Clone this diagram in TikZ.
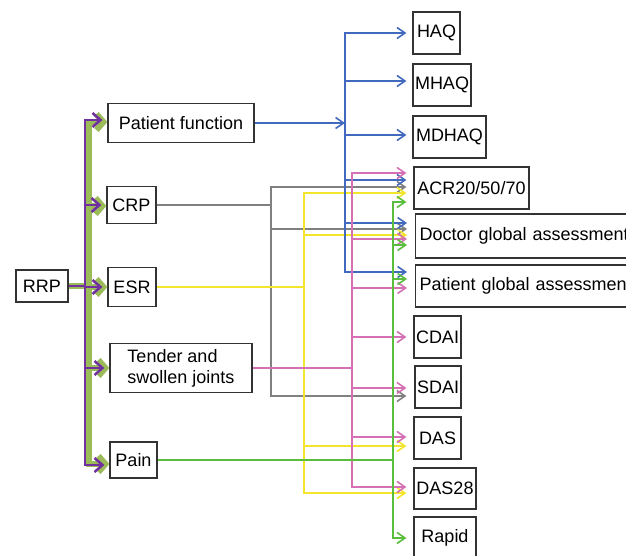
\documentclass[tikz,border=0pt]{standalone}
\usepackage{fontspec}
\setmainfont{Liberation Sans}
\usetikzlibrary{arrows.meta,calc}
\definecolor{cblue}{HTML}{4169BE}
\definecolor{cpink}{HTML}{D670B4}
\definecolor{cgray}{HTML}{808080}
\definecolor{cyel}{HTML}{F2E52C}
\definecolor{cgrn}{HTML}{5BBD3E}
\definecolor{cpur}{HTML}{7030A0}
\definecolor{colv}{HTML}{9BBB59}
\definecolor{cbox}{HTML}{333333}
\begin{document}
\begin{tikzpicture}[x=1pt,y=-1pt,
  font=\fontsize{18}{21}\selectfont,
  box/.style={draw=cbox, line width=1.2pt, inner sep=2pt, minimum height=42pt},
  wbox/.style={box, anchor=west, inner xsep=4pt, minimum width=225pt, text width=217pt, align=left},
  ln/.style={line width=1.6pt},
  lnk/.style={line width=1.6pt, -{Straight Barb[length=8pt,width=11pt]}},
  olvline/.style={colv, line width=6pt},
  olvarr/.style={colv, line width=6pt, -{Straight Barb[length=7pt,width=16pt]}},
  purline/.style={cpur, line width=2.5pt},
  purarr/.style={cpur, line width=2.5pt, -{Straight Barb[length=8pt,width=14pt]}}]
\useasboundingbox (0,0) rectangle (626,556);
\clip (0,0) rectangle (626,556);

% left boxes
\node[box, minimum width=52pt, minimum height=32pt] (rrp) at (42,286) {RRP};
\node[box, minimum width=146pt, minimum height=39pt] (pf) at (181,123) {Patient function};
\node[box, minimum width=49pt, minimum height=37pt] (crp) at (131.5,205) {CRP};
\node[box, minimum width=48pt, minimum height=39pt] (esr) at (132,287) {ESR};
\node[box, minimum width=142pt, minimum height=49pt, align=left] (tsj) at (181,368) {Tender and\\swollen joints};
\node[box, minimum width=47pt, minimum height=36pt] (pain) at (133.5,460) {Pain};

% right boxes
\node[box, minimum width=47pt] (haq) at (436.5,33) {HAQ};
\node[box, minimum width=58pt] (mhaq) at (442,85) {MHAQ};
\node[box, minimum width=73pt] (mdhaq) at (449.5,137) {MDHAQ};
\node[box, minimum width=115pt] (acr) at (471.5,188) {ACR20/50/70};
\node[wbox, minimum height=44pt] (dga) at (415,236) {Doctor global assessment};
\node[wbox] (pga) at (415,286) {Patient global assessment};
\node[box, minimum width=47pt] (cdai) at (437.5,337) {CDAI};
\node[box, minimum width=46pt] (sdai) at (438,387) {SDAI};
\node[box, minimum width=47pt] (das) at (437.5,438) {DAS};
\node[box, minimum width=62pt, minimum height=41pt] (das28) at (445,488.5) {DAS28};
\node[box, minimum width=62pt] (rapid) at (445,538) {Rapid};

% left bus (green shadow, purple on top)
\coordinate (gq) at (89,286);
\coordinate (pu) at (85,286);
\draw[olvline] (rrp.east) -- (gq);
\draw[olvarr] (gq) |- ($(pf.west)+(0,-1)$);
\draw[olvarr] (gq) |- ($(crp.west)+(0,1)$);
\draw[olvarr] (gq) |- (esr.west);
\draw[olvarr] (gq) |- (tsj.west);
\draw[olvarr] (gq) |- ($(pain.west)+(0,4)$);
\draw[purline] (rrp.east) -- (pu);
\draw[purarr] (pu) |- ($(pf.west)+(-5,-3)$);
\draw[purarr] (pu) |- ($(crp.west)+(-5,0)$);
\draw[purarr] (pu) |- ($(esr.west)+(-5,0)$);
\draw[purarr] (pu) |- ($(tsj.west)+(-5,0)$);
\draw[purarr] (pu) |- ($(pain.west)+(-5,5)$);

% junctions
\coordinate (bj) at (345,123);
\coordinate (gj) at (271,205);
\coordinate (yj) at (304,287);
\coordinate (pj) at (352,368);
\coordinate (nj) at (393,460);

% gray (CRP)
\draw[ln, cgray] (crp.east) -- (gj);
\draw[lnk, cgray] (gj) |- ($(acr.west)+(-7,-1)$);
\draw[lnk, cgray] (gj) |- ($(dga.west)+(-8,-7)$);
\draw[lnk, cgray] (gj) |- ($(sdai.west)+(-8,9)$);

% yellow (ESR)
\draw[ln, cyel] (esr.east) -- (yj);
\draw[lnk, cyel] (yj) |- ($(acr.west)+(-7,5)$);
\draw[lnk, cyel] (yj) |- ($(dga.west)+(-8,-1)$);
\draw[lnk, cyel] (yj) |- ($(das.west)+(-7,8)$);
\draw[lnk, cyel] (yj) |- ($(das28.west)+(-7,4.5)$);

% blue (Patient function)
\draw[lnk, cblue] (pf.east) -- (bj);
\draw[lnk, cblue] (bj) |- ($(haq.west)+(-6,0)$);
\draw[lnk, cblue] (bj) |- ($(mhaq.west)+(-6,-4)$);
\draw[lnk, cblue] (bj) |- ($(mdhaq.west)+(-6,-2)$);
\draw[lnk, cblue] (bj) |- ($(acr.west)+(-7,-8)$);
\draw[lnk, cblue] (bj) |- ($(dga.west)+(-8,-13)$);
\draw[lnk, cblue] (bj) |- ($(pga.west)+(-8,-14)$);

% pink (Tender and swollen joints)
\draw[ln, cpink] (tsj.east) -- (pj);
\draw[lnk, cpink] (pj) |- ($(acr.west)+(-7,-15)$);
\draw[lnk, cpink] (pj) |- ($(dga.west)+(-8,3)$);
\draw[lnk, cpink] (pj) |- ($(pga.west)+(-8,2)$);
\draw[lnk, cpink] (pj) |- ($(cdai.west)+(-7,0)$);
\draw[lnk, cpink] (pj) |- ($(sdai.west)+(-8,1)$);
\draw[lnk, cpink] (pj) |- ($(das.west)+(-7,-1)$);
\draw[lnk, cpink] (pj) |- ($(das28.west)+(-7,-1.5)$);

% green (Pain)
\draw[ln, cgrn] (pain.east) -- (nj);
\draw[lnk, cgrn] (nj) |- ($(acr.west)+(-7,14)$);
\draw[lnk, cgrn] (nj) |- ($(dga.west)+(-8,9)$);
\draw[lnk, cgrn] (nj) |- ($(pga.west)+(-8,-7)$);
\draw[lnk, cgrn] (nj) |- ($(rapid.west)+(-7,0)$);
\end{tikzpicture}
\end{document}
